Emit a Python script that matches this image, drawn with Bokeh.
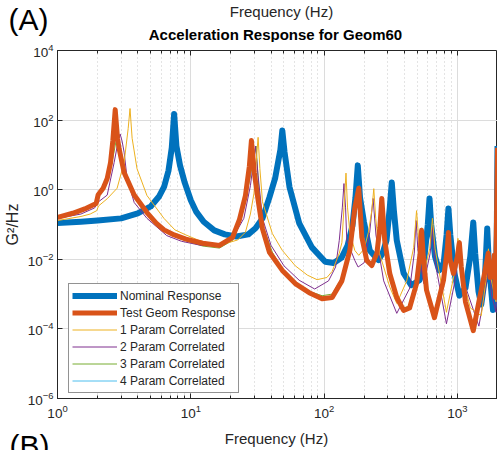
from bokeh.plotting import figure
from bokeh.layouts import column
from bokeh.models import (LogAxis, FixedTicker, Legend, LegendItem, Range1d,
                          CustomJSTickFormatter, CustomLabelingPolicy)
from bokeh.core.properties import value
from bokeh.embed import file_html
from bokeh.resources import INLINE

# ---------------- data ----------------
nominal_freq = [1, 1.5, 2, 3, 4, 5, 5.8, 6.3, 6.8, 7.2, 7.5, 7.8, 8.3, 9.0, 10, 11, 12.5, 15, 18, 22,
                27, 30.6, 34.5, 38.9, 43, 47, 48.6, 50.5, 55, 65, 81, 102, 118, 135, 150, 163, 172,
                179, 186, 199, 220, 249, 256, 275, 294, 311, 322, 334, 351, 395, 450, 520, 556, 600,
                618, 636, 680, 730, 790, 830, 857, 885, 950, 1035, 1150, 1250, 1316, 1360, 1440,
                1510, 1610, 1675, 1720, 1850, 1930, 1975, 2000]
nominal_val = [0.11, 0.12, 0.13, 0.15, 0.21, 0.33, 0.65, 1.2, 3.5, 16, 150, 18, 5, 1.6, 0.5, 0.23,
               0.12, 0.068, 0.052, 0.045, 0.052, 0.078, 0.15, 0.6, 2.2, 14, 50, 12, 1.2, 0.11,
               0.022, 0.0085, 0.0078, 0.011, 0.025, 0.09, 0.6, 5, 0.6, 0.12, 0.018, 0.0105, 0.0095,
               0.015, 0.035, 0.3, 1.6, 0.25, 0.035, 0.004, 0.0018, 0.0025, 0.006, 0.1, 0.56, 0.1,
               0.012, 0.0048, 0.008, 0.05, 0.29, 0.05, 0.004, 0.0009, 0.0015, 0.012, 0.115, 0.015,
               0.0012, 0.0005, 0.003, 0.077, 0.008, 0.00035, 0.0008, 0.05, 18]

test_freq = [1, 1.3, 1.6, 1.95, 2.02, 2.2, 2.36, 2.5, 2.6, 2.71, 2.82, 2.9, 3.16, 3.76, 4.69, 5.5,
             6.3, 7.5, 9.2, 12.3, 16.4, 20.6, 23.2, 25.7, 27.5, 28.5, 30, 31.6, 34.5, 38.9, 48.6,
             60.8, 77.3, 96.6, 115, 136, 156, 170, 182, 192, 209, 228, 249, 262, 271, 285, 311,
             351, 395, 438, 494, 525, 539, 555, 587, 673, 787, 840, 857, 880, 934, 1000, 1035,
             1070, 1150, 1316, 1450, 1600, 1703, 1760, 1850, 1888, 1930, 2000]
test_val = [0.16, 0.21, 0.28, 0.4, 0.72, 1.1, 2.1, 6, 25, 200, 30, 15, 3.1, 0.7, 0.22, 0.11, 0.07,
            0.05, 0.038, 0.029, 0.025, 0.043, 0.14, 0.68, 4.7, 26, 3, 0.68, 0.075, 0.016, 0.0048,
            0.002, 0.0011, 0.00074, 0.0008, 0.0024, 0.018, 0.3, 1.1, 0.043, 0.0093, 0.0066, 0.015,
            0.08, 0.56, 0.035, 0.0039, 0.0008, 0.00034, 0.0004, 0.002, 0.015, 0.068, 0.012, 0.0013,
            0.00021, 0.0025, 0.02, 0.059, 0.01, 0.0039, 0.012, 0.03, 0.006, 0.0006, 0.000089,
            0.0006, 0.004, 0.015, 0.003, 0.004, 0.013, 0.0008, 16]

p1_freq = [1, 1.5, 1.76, 1.97, 2.03, 2.36, 2.8, 3.16, 3.39, 3.5, 3.63, 3.95, 4.69, 6.29, 7.6, 9.2,
           11.5, 14, 18, 22.5, 25.7, 28, 29.8, 30.9, 32, 33, 34.5, 40.9, 48.6, 60.8, 75, 88.6, 105,
           115, 130, 136, 141, 146, 150, 156, 170, 182, 200, 215, 228, 236, 244, 260, 280, 311, 351,
           417, 470, 494, 515, 560, 620, 650, 680, 828, 950, 1010, 1060, 1250, 1510, 1650, 1710,
           1780, 1950, 2000]
p1_val = [0.13, 0.17, 0.2, 0.25, 0.34, 0.55, 1.1, 6, 57, 215, 30, 4, 0.68, 0.15, 0.07, 0.05, 0.035,
          0.028, 0.028, 0.036, 0.06, 0.2, 0.8, 6, 32, 4, 0.45, 0.055, 0.018, 0.0065, 0.0035, 0.0026,
          0.003, 0.0045, 0.015, 0.03, 0.3, 3, 0.3, 0.06, 0.018, 0.013, 0.02, 0.06, 0.25, 1.07,
          0.15, 0.015, 0.006, 0.0016, 0.00054, 0.0024, 0.022, 0.25, 0.03, 0.004, 0.02, 0.15, 0.02,
          0.0003, 0.004, 0.04, 0.005, 0.0004, 0.00024, 0.003, 0.02, 0.003, 0.0006, 8]

p2_freq = [1, 1.5, 1.9, 2.03, 2.36, 2.66, 2.85, 2.95, 3.05, 3.16, 3.33, 3.76, 4.69, 6.6, 8.5, 12,
           16.4, 20.6, 25, 28, 30.6, 32, 34.5, 40, 50, 65, 85, 108, 122, 130, 137, 141, 145, 148,
           170, 180, 200, 220, 233, 245, 280, 351, 440, 475, 490, 505, 560, 625, 650, 675, 828,
           970, 1035, 1090, 1450, 1650, 1730, 1800, 1950, 2000]
p2_val = [0.15, 0.2, 0.3, 0.45, 0.7, 6, 25, 40, 25, 12, 2.1, 0.43, 0.15, 0.048, 0.033, 0.025,
          0.024, 0.04, 0.15, 1.3, 18, 2.5, 0.15, 0.025, 0.0065, 0.0025, 0.0014, 0.0024, 0.006,
          0.035, 0.3, 1.5, 0.3, 0.035, 0.0093, 0.006, 0.008, 0.06, 0.56, 0.05, 0.0024, 0.00028,
          0.0015, 0.015, 0.13, 0.02, 0.002, 0.015, 0.081, 0.01, 0.00014, 0.003, 0.025, 0.003,
          0.00012, 0.002, 0.01, 0.001, 0.0003, 8]

p3_freq = [1, 1.5, 1.95, 2.02, 2.36, 2.6, 2.8, 2.95, 3.16, 3.76, 4.69, 6.3, 9.2, 12.3, 16.4, 20.6,
           25, 28, 30.9, 32, 34.5, 40.9, 48.6, 60.8, 77.3, 96.6, 115, 136, 156, 172, 184, 194, 209,
           228, 249, 262, 272, 286, 311, 351, 395, 438, 494, 525, 542, 558, 587, 673, 787, 840,
           860, 880, 934, 1000, 1040, 1075, 1150, 1316, 1450, 1600, 1710, 1760, 1850, 1890, 1930,
           2000]
p3_val = [0.15, 0.24, 0.38, 0.6, 1.6, 8, 36, 8, 2.5, 0.65, 0.2, 0.065, 0.034, 0.024, 0.021, 0.035,
          0.3, 2.5, 18, 2, 0.1, 0.016, 0.0052, 0.0022, 0.0012, 0.0009, 0.001, 0.003, 0.02, 0.3,
          1.3, 0.045, 0.011, 0.008, 0.017, 0.09, 0.6, 0.04, 0.0045, 0.0009, 0.0004, 0.00045,
          0.0025, 0.018, 0.08, 0.014, 0.0016, 0.00025, 0.003, 0.022, 0.065, 0.012, 0.0045, 0.013,
          0.035, 0.007, 0.0007, 0.0001, 0.0007, 0.0045, 0.018, 0.0035, 0.0045, 0.015, 0.0009, 16]

# 4 Param Correlated lies under the test-geometry curve everywhere
p4_freq = list(test_freq)
p4_val = list(test_val)

x_major = [1, 10, 100, 1000]
x_minor = [2, 3, 4, 5, 6, 7, 8, 9, 20, 30, 40, 50, 60, 70, 80, 90,
           200, 300, 400, 500, 600, 700, 800, 900, 2000]
y_major = [1e-6, 1e-4, 1e-2, 1, 1e2, 1e4]

FONT = "Liberation Sans"
DARK = "#262626"
W = 497
TOP_H = 42      # strip with panel tag and titles
MAIN_H = 384    # plot: frame from y=50 to y=398 on the page
BOT_H = 24      # strip with x-axis title and next panel tag


def strip(h):
    f = figure(width=W, height=h, x_range=Range1d(0, W), y_range=Range1d(0, h),
               x_axis_location=None, y_axis_location=None, min_border=0,
               toolbar_location=None, output_backend="svg", outline_line_color=None,
               frame_align=False)
    f.grid.visible = False
    f.background_fill_color = "white"
    f.border_fill_color = "white"
    return f


def txt(f, x, y, s, size, bold=False, align="center", baseline="middle", color=DARK):
    f.text(x=[x], y=[y], text=[s], text_font=value(FONT), text_font_size=value(size),
           text_font_style="bold" if bold else "normal", text_align=align,
           text_baseline=baseline, text_color=color)


# ---- top strip: panel tag, previous panel's axis title, plot title ----
top_strip = strip(TOP_H)
txt(top_strip, 8, TOP_H - 2, "(A)", "30px", align="left", baseline="top", color="#000000")
txt(top_strip, 281, TOP_H - 11, "Frequency (Hz)", "15px")
txt(top_strip, 275, TOP_H - 34, "Acceleration Response for Geom60", "15px", bold=True,
    color="#000000")

# ---- main plot ----
p = figure(width=W, height=MAIN_H, x_axis_type="log", y_axis_type="log",
           x_range=Range1d(1, 2000), y_range=Range1d(1e-6, 1e4),
           output_backend="svg", toolbar_location=None, frame_align=False,
           min_border_left=54, min_border_right=0, min_border_top=8, min_border_bottom=28)
p.background_fill_color = "white"
p.border_fill_color = "white"
p.outline_line_color = DARK
p.outline_line_width = 1

xt = FixedTicker(ticks=x_major, minor_ticks=x_minor)
yt = FixedTicker(ticks=y_major, minor_ticks=[])

xa = p.xaxis[0]
ya = p.yaxis[0]
xa.ticker = xt
ya.ticker = yt
for ax in (xa, ya):
    ax.axis_line_color = DARK
    ax.major_tick_line_color = DARK
    ax.minor_tick_line_color = DARK
    ax.major_tick_in = 5
    ax.major_tick_out = 0
    ax.minor_tick_in = 3
    ax.minor_tick_out = 0
    ax.major_label_text_font = FONT
    ax.major_label_text_font_size = "13.5px"
    ax.major_label_text_color = DARK
xa.major_label_standoff = 6
ya.major_label_standoff = 4
ya.axis_label = "G\u00b2/Hz"
ya.axis_label_text_font = FONT
ya.axis_label_text_font_size = "16px"
ya.axis_label_text_font_style = "normal"
ya.axis_label_text_color = DARK
ya.axis_label_standoff = 4

# tick marks along the top edge, without labels
top = LogAxis(ticker=xt, formatter=CustomJSTickFormatter(code="return ''"),
              major_label_policy=CustomLabelingPolicy(code="return new Set()"),
              axis_line_color=None, major_tick_line_color=DARK, minor_tick_line_color=DARK,
              major_tick_in=5, major_tick_out=0, minor_tick_in=3, minor_tick_out=0,
              major_label_standoff=0, major_label_text_font_size="0px")
p.add_layout(top, "above")

p.xgrid.ticker = xt
p.ygrid.ticker = yt
p.xgrid.grid_line_color = "#dcdcdc"
p.ygrid.grid_line_color = "#dcdcdc"
p.xgrid.minor_grid_line_color = "#c8c8c8"
p.xgrid.minor_grid_line_dash = "1 3"
p.ygrid.minor_grid_line_color = None

r_nom = p.line(nominal_freq, nominal_val, line_color="#0072BD", line_width=6, line_join="round")
r_p4 = p.line(p4_freq, p4_val, line_color="#4DBEEE", line_width=1)
r_p3 = p.line(p3_freq, p3_val, line_color="#77AC30", line_width=1)
r_p2 = p.line(p2_freq, p2_val, line_color="#7E2F8E", line_width=1)
r_p1 = p.line(p1_freq, p1_val, line_color="#EDB120", line_width=1)
r_test = p.line(test_freq, test_val, line_color="#D95319", line_width=5, line_join="round")

legend = Legend(items=[
    LegendItem(label="Nominal Response", renderers=[r_nom]),
    LegendItem(label="Test Geom Response", renderers=[r_test]),
    LegendItem(label="1 Param Correlated", renderers=[r_p1]),
    LegendItem(label="2 Param Correlated", renderers=[r_p2]),
    LegendItem(label="3 Param Correlated", renderers=[r_p3]),
    LegendItem(label="4 Param Correlated", renderers=[r_p4]),
], location=(11, 5))
legend.margin = 0
legend.padding = 3
legend.spacing = 0
legend.label_height = 17
legend.glyph_height = 17
legend.glyph_width = 45
legend.label_standoff = 3
legend.label_text_font = FONT
legend.label_text_font_size = "12px"
legend.label_text_color = DARK
legend.border_line_color = DARK
legend.border_line_width = 1
legend.background_fill_color = "white"
legend.background_fill_alpha = 1
p.add_layout(legend)

# ---- bottom strip: x-axis title and next panel tag ----
bottom_strip = strip(BOT_H)
txt(bottom_strip, 276, 12, "Frequency (Hz)", "15px")
txt(bottom_strip, 9, 22, "(B)", "30px", align="left", baseline="top", color="#000000")

layout = column(top_strip, p, bottom_strip, spacing=0)
open("out.html", "w").write(file_html(layout, INLINE))
